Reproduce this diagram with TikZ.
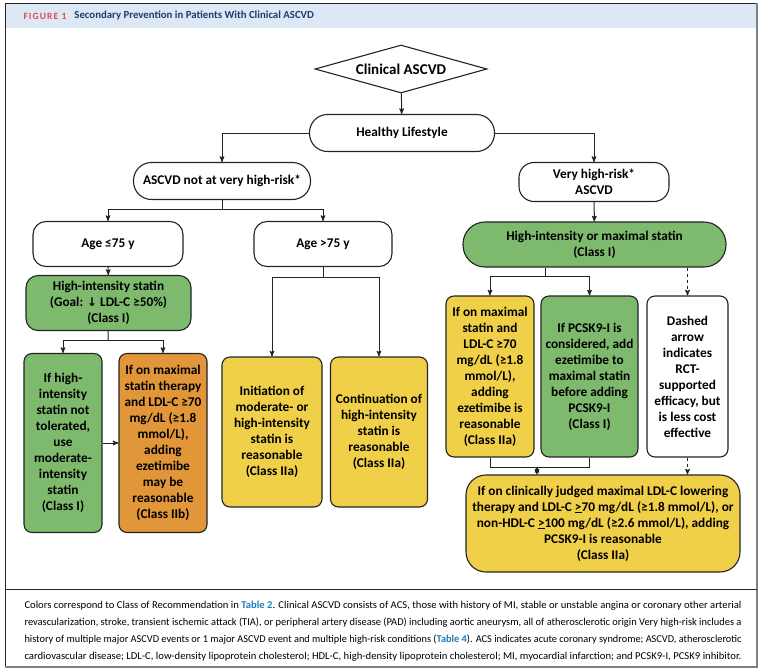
\documentclass[tikz,border=0pt]{standalone}
\usepackage{fontspec}
\setmainfont{Carlito}
\newfontfamily\symfont{DejaVu Sans}
\newfontfamily\figfont{Carlito}[LetterSpace=12]
\usepackage{graphicx}
\usetikzlibrary{arrows,positioning,shapes.geometric}

\definecolor{linec}{RGB}{35,35,35}
\definecolor{hdrblue}{RGB}{220,232,245}
\definecolor{figred}{RGB}{230,72,72}
\definecolor{ttlblue}{RGB}{38,58,105}
\definecolor{tblblue}{RGB}{30,125,185}
\definecolor{clsgreen}{RGB}{125,186,110}
\definecolor{clsyellow}{RGB}{240,208,72}
\definecolor{clsorange}{RGB}{226,150,58}

\newcommand{\boxfont}{\bfseries\fontsize{13.3}{16}\selectfont}
\newcommand{\capline}[1]{\resizebox{717pt}{\height}{#1}}
\newcommand{\tblref}[1]{\textcolor{tblblue}{\bfseries #1}}

\begin{document}
\begin{tikzpicture}[x=1pt,y=-1pt,>=stealth',line width=1pt,
	box/.style={draw=linec,line width=1.1pt,align=center,inner sep=0pt,font=\boxfont,rounded corners=8pt},
	gbox/.style={box,fill=clsgreen},
	ybox/.style={box,fill=clsyellow},
	obox/.style={box,fill=clsorange},
	elbow/.style={to path={-| (\tikztotarget)}},
	capnode/.style={anchor=west,inner sep=0pt,font=\fontsize{10.5}{12}\selectfont}]
	\useasboundingbox (0,0) rectangle (768,670);

	\fill[hdrblue] (5,3) rectangle (757,28);
	\draw[linec,line width=0.8pt] (5,667) -- (5,3) -- (757,3);
	\draw[gray,line width=1.6pt] (757,3) -- (757,667) -- (5,667);
	\draw[linec,line width=0.8pt] (5,589) -- (757,589);
	\node[anchor=west,inner sep=0pt,font=\figfont\bfseries\fontsize{9.5}{11}\selectfont,text=figred] (fig) at (23,16) {FIGURE 1};
	\node[anchor=west,inner sep=0pt,font=\bfseries\fontsize{10.8}{12}\selectfont,text=ttlblue] (ttl) [right=7pt of fig] {Secondary Prevention in Patients With Clinical ASCVD};

	\node[box,diamond,rounded corners=0pt,minimum width=172pt,minimum height=48pt,aspect=3.6,font=\bfseries\fontsize{15}{16}\selectfont] (clin) at (401,69) {Clinical ASCVD};
	\node[box,minimum width=185pt,minimum height=37pt,rounded corners=18pt] (life) at (402,133) {Healthy Lifestyle};
	\node[box,minimum width=177pt,minimum height=37pt,rounded corners=18pt] (notvh) at (222,181) {ASCVD not at very high-risk*};
	\node[box,minimum width=150pt,minimum height=39pt,rounded corners=15pt] (vh) at (594,182) {Very high-risk*\\ASCVD};

	\node[box,minimum width=150pt,minimum height=45pt,rounded corners=13pt] (ageA) at (108,244) {Age ≤75 y};
	\node[box,minimum width=138pt,minimum height=45pt,rounded corners=13pt] (ageB) at (323,244) {Age >75 y};
	\node[gbox,minimum width=165pt,minimum height=55pt,rounded corners=12pt] (hist) at (108.5,303) {High-intensity statin\\(Goal: {\symfont\bfseries\fontsize{12}{16}\selectfont ↓} LDL-C ≥50\%)\\(Class I)};
	\node[gbox,minimum width=78pt,minimum height=179pt] (intol) at (63,443) {If high-\\intensity\\statin not\\tolerated,\\use\\moderate-\\intensity\\statin\\(Class I)};
	\node[obox,minimum width=88pt,minimum height=179pt] (ezeB) at (163,443) {If on maximal\\statin therapy\\and LDL-C ≥70\\mg/dL (≥1.8\\mmol/L),\\adding\\ezetimibe\\may be\\reasonable\\(Class IIb)};
	\node[ybox,minimum width=100pt,minimum height=150pt] (init) at (272,432) {Initiation of\\moderate- or\\high-intensity\\statin is\\reasonable\\(Class IIa)};
	\node[ybox,minimum width=97pt,minimum height=150pt] (cont) at (379,432) {Continuation of\\high-intensity\\statin is\\reasonable\\(Class IIa)};

	\node[gbox,minimum width=263pt,minimum height=45pt,rounded corners=22pt] (himax) at (594.5,244.5) {High-intensity or maximal statin\\(Class I)};
	\node[ybox,minimum width=88pt,minimum height=161pt] (ezeA) at (490,376.5) {If on maximal\\statin and\\LDL-C ≥70\\mg/dL (≥1.8\\mmol/L),\\adding\\ezetimibe is\\reasonable\\(Class IIa)};
	\node[gbox,minimum width=97pt,minimum height=161pt] (pcsk) at (589.5,376.5) {If PCSK9-I is\\considered, add\\ezetimibe to\\maximal statin\\before adding\\PCSK9-I\\(Class I)};
	\node[box,fill=white,minimum width=81pt,minimum height=161pt] (dash) at (687.5,376.5) {Dashed\\arrow\\indicates\\RCT-\\supported\\efficacy, but\\is less cost\\effective};
	\node[ybox,minimum width=274pt,minimum height=97pt,rounded corners=20pt] (pcski) at (603,523.5) {If on clinically judged maximal LDL-C lowering\\therapy and LDL-C \underline{>}70 mg/dL (≥1.8 mmol/L), or\\non-HDL-C \underline{>}100 mg/dL (≥2.6 mmol/L), adding\\PCSK9-I is reasonable\\(Class IIa)};

	\coordinate (j1) at (222,209);
	\coordinate (j2) at (108,340);
	\coordinate (j3) at (323,277);
	\coordinate (j4) at (545,276);
	\coordinate (j5) at (537,467);

	\path[->,draw=linec]
	(clin) edge (life)
	(life.west) edge[elbow] (notvh.north)
	(life.east) edge[elbow] (vh.north)
	(notvh) edge[-] (j1)
	(j1) edge[elbow] (ageA.north)
	(j1) edge[elbow] (ageB.north)
	(ageA) edge (hist)
	(hist) edge[-] (j2)
	(j2) edge[elbow] (intol.north)
	(j2) edge[elbow] (ezeB.north)
	(intol) edge (ezeB)
	(ageB) edge[-] (j3)
	(j3) edge[elbow] (init.north)
	(j3) edge[elbow] (cont.north)
	(vh) edge (himax)
	(j4 |- himax.south) edge[-] (j4)
	(j4) edge[elbow] (ezeA.north)
	(j4) edge[elbow] (pcsk.north)
	(dash.north |- himax.south) edge[dashed] (dash.north)
	(ezeA.south) edge[-,to path={|- (\tikztotarget)}] (j5)
	(j5) edge[-,elbow] (pcsk.south)
	(j5) edge (j5 |- pcski.north)
	(dash) edge[dashed] (dash.south |- pcski.north)
	;

	\node[capnode] (capa) at (24,606) {\capline{Colors correspond to Class of Recommendation in \tblref{Table 2}. Clinical ASCVD consists of ACS, those with history of MI, stable or unstable angina or coronary other arterial}};
	\node[capnode] (capb) at (24,623) {\capline{revascularization, stroke, transient ischemic attack (TIA), or peripheral artery disease (PAD) including aortic aneurysm, all of atherosclerotic origin Very high-risk includes a}};
	\node[capnode] (capc) at (24,640) {\capline{history of multiple major ASCVD events or 1 major ASCVD event and multiple high-risk conditions (\tblref{Table 4}). ACS indicates acute coronary syndrome; ASCVD, atherosclerotic}};
	\node[capnode] (capd) at (24,657) {\capline{cardiovascular disease; LDL-C, low-density lipoprotein cholesterol; HDL-C, high-density lipoprotein cholesterol; MI, myocardial infarction; and PCSK9-I, PCSK9 inhibitor.}};
\end{tikzpicture}
\end{document}
